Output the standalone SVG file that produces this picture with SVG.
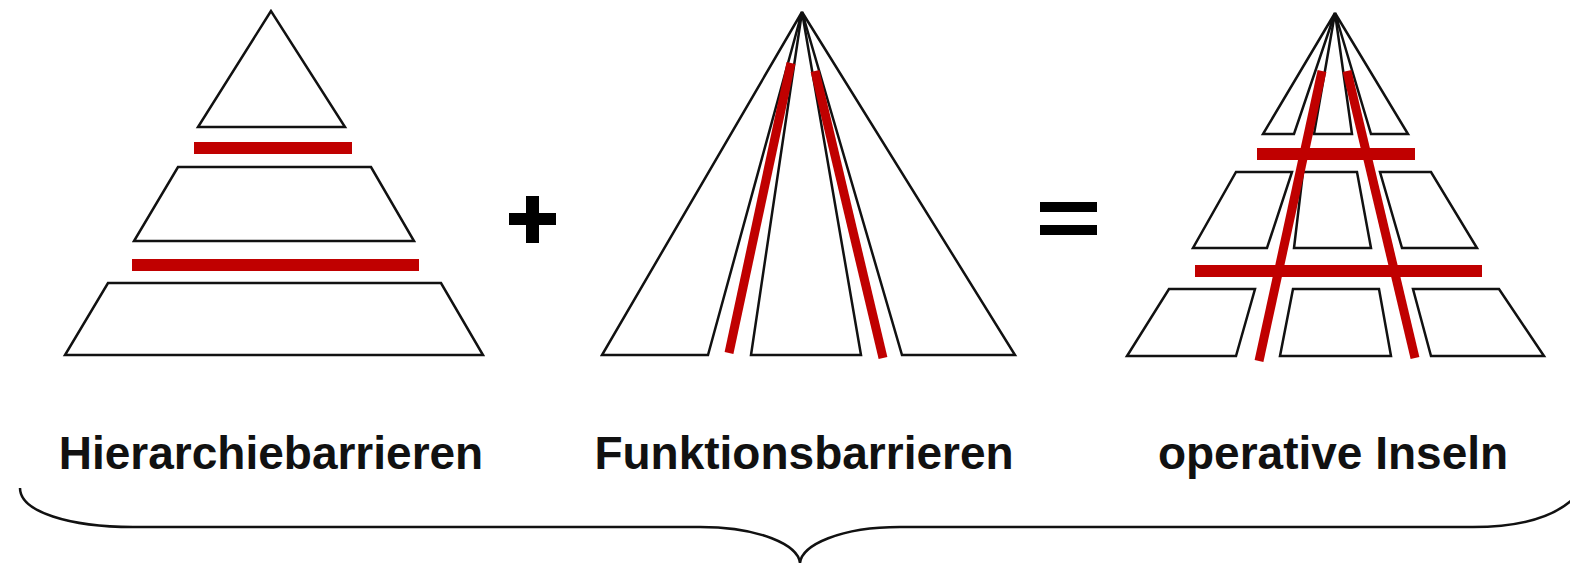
<svg xmlns="http://www.w3.org/2000/svg" width="1570" height="563" viewBox="0 0 1570 563">
<style>
.s{fill:#fff;stroke:#111;stroke-width:2.5;stroke-linejoin:miter}
.rb{fill:#c00000}
.rl{stroke:#c00000;stroke-width:9;fill:none}
.t{font-family:"Liberation Sans",Arial,sans-serif;font-weight:bold;font-size:46px;fill:#111;text-anchor:middle}
.op{fill:#000}
.br{fill:none;stroke:#111;stroke-width:2.5}
</style>
<rect width="1570" height="563" fill="#fff"/>
<g id="hierarchie">
<polygon class="s" points="271,11 198,127 345,127"/>
<polygon class="s" points="178,167 371,167 414,241 134,241"/>
<polygon class="s" points="108,283 441,283 483,355 65,355"/>
<rect class="rb" x="194" y="142" width="158" height="12"/>
<rect class="rb" x="132" y="259" width="287" height="12"/>
</g>
<g id="funktion">
<polygon class="s" points="802,12 602,355 708,355"/>
<polygon class="s" points="802,12 751,355 861,355"/>
<polygon class="s" points="802,12 902,355 1015,355"/>
<line class="rl" x1="729" y1="353" x2="791" y2="63"/>
<line class="rl" x1="815" y1="71" x2="883" y2="358"/>
</g>
<g id="operativ">
<polygon class="s" points="1335,13 1263,134 1294,134"/>
<polygon class="s" points="1335,13 1314,134 1352,134"/>
<polygon class="s" points="1335,13 1371,134 1408,134"/>
<polygon class="s" points="1236,172 1292,172 1267,248 1193,248"/>
<polygon class="s" points="1303,172 1357,172 1371,248 1294,248"/>
<polygon class="s" points="1380,172 1431,172 1477,248 1402,248"/>
<polygon class="s" points="1169,289 1255,289 1236,356 1127,356"/>
<polygon class="s" points="1293,289 1379,289 1391,356 1280,356"/>
<polygon class="s" points="1413,289 1499,289 1544,356 1431,356"/>
<rect class="rb" x="1257" y="148" width="158" height="12"/>
<rect class="rb" x="1195" y="265" width="287" height="12"/>
<line class="rl" x1="1322" y1="71" x2="1259" y2="361"/>
<line class="rl" x1="1347" y1="71" x2="1415" y2="358"/>
</g>
<g id="operators">
<rect class="op" x="509" y="213" width="47" height="12"/>
<rect class="op" x="526" y="196" width="13" height="47"/>
<rect class="op" x="1040" y="202" width="57" height="10"/>
<rect class="op" x="1040" y="225" width="57" height="10"/>
</g>
<g id="labels">
<text class="t" x="271" y="469">Hierarchiebarrieren</text>
<text class="t" x="804" y="469">Funktionsbarrieren</text>
<text class="t" x="1333" y="469">operative Inseln</text>
</g>
<g id="connectors">
<path class="br" d="M20,488 C20,512 70,527 133,527 L700,527 C760,527 798,545 800,563 C802,545 840,527 900,527 L1473,527 C1525,527 1555,515 1572,500"/>
</g>
</svg>
